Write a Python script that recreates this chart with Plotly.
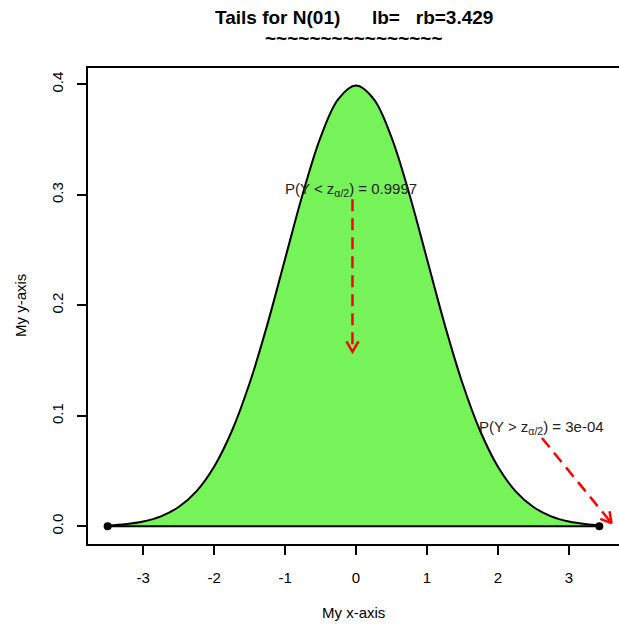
import math
import plotly.graph_objects as go

# ---- data ----
curve_x = [-3.5, -3.25, -3.0, -2.75, -2.5, -2.25, -2.0, -1.75, -1.5, -1.25, -1.0, -0.75, -0.5, -0.25,
           0.0, 0.25, 0.5, 0.75, 1.0, 1.25, 1.5, 1.75, 2.0, 2.25, 2.5, 2.75, 3.0, 3.25, 3.429]
curve_y = [0.0009, 0.0020, 0.0044, 0.0091, 0.0175, 0.0317, 0.0540, 0.0863, 0.1295, 0.1826, 0.2420, 0.3011, 0.3521, 0.3867,
           0.3989, 0.3867, 0.3521, 0.3011, 0.2420, 0.1826, 0.1295, 0.0863, 0.0540, 0.0317, 0.0175, 0.0091, 0.0044, 0.0020, 0.0011]
bounds_x = [-3.5, 3.429]
bounds_y = [0.0, 0.0]

x_ticks = [-3, -2, -1, 0, 1, 2, 3]
x_tick_labels = ["-3", "-2", "-1", "0", "1", "2", "3"]
y_ticks = [0.0, 0.1, 0.2, 0.3, 0.4]
y_tick_labels = ["0.0", "0.1", "0.2", "0.3", "0.4"]

label_left = "P(Y < z<sub>α/2</sub>) = 0.9997"
label_left_pos = (-0.07, 0.305)
arrow_left = ([-0.05, -0.05], [0.296, 0.158])

label_right = "P(Y > z<sub>α/2</sub>) = 3e-04"
label_right_pos = (2.62, 0.0898)
arrow_right = ([2.62, 3.6], [0.080, 0.003])

NB = "\u00a0"
title_line1 = "Tails for N(01)" + NB * 6 + "lb=" + NB * 3 + "rb=3.429"
title_line2 = "~" * 16
x_title = "My x-axis"
y_title = "My y-axis"

FONT = "Liberation Sans, Arial, sans-serif"
GREEN = "#77F35A"
RED = "#FF0000"

X_RANGE = [-3.777, 3.706]
Y_RANGE = [-0.01596, 0.41485]
W, H = 619, 624
ML, MR, MT, MB = 88, 0, 68, 80
PW, PH = W - ML - MR, H - MT - MB
px_per_x = PW / (X_RANGE[1] - X_RANGE[0])
px_per_y = PH / (Y_RANGE[1] - Y_RANGE[0])

fig = go.Figure()

fig.add_trace(go.Scatter(x=curve_x, y=curve_y, mode="lines", line=dict(color="black", width=2, shape="spline"),
                         fill="tozeroy", fillcolor=GREEN, hoverinfo="skip"))
fig.add_trace(go.Scatter(x=bounds_x, y=bounds_y, mode="lines+markers", line=dict(color="black", width=2),
                         marker=dict(color="black", size=8), hoverinfo="skip"))

HEAD_LEN = 12  # px
HEAD_ANG = math.radians(30)
for (ax_, ay_) in [arrow_left, arrow_right]:
    fig.add_trace(go.Scatter(x=ax_, y=ay_, mode="lines", line=dict(color=RED, width=2.5, dash="12px,7px"),
                             hoverinfo="skip"))
    # open "V" arrow head in pixel space, converted back to data units
    dxp = (ax_[1] - ax_[0]) * px_per_x
    dyp = (ay_[1] - ay_[0]) * px_per_y
    ang = math.atan2(dyp, dxp)
    hx, hy = [], []
    for s in (1, -1):
        a = ang + math.pi + s * HEAD_ANG
        hx.append(ax_[1] + HEAD_LEN * math.cos(a) / px_per_x)
        hy.append(ay_[1] + HEAD_LEN * math.sin(a) / px_per_y)
    fig.add_trace(go.Scatter(x=[hx[0], ax_[1], hx[1]], y=[hy[0], ay_[1], hy[1]], mode="lines",
                             line=dict(color=RED, width=2.5), hoverinfo="skip"))

for txt, (px, py) in [(label_left, label_left_pos), (label_right, label_right_pos)]:
    fig.add_annotation(x=px, y=py, xref="x", yref="y", text=txt, showarrow=False,
                       font=dict(family=FONT, size=15, color="#222222"), xanchor="center", yanchor="middle")

# titles
fig.add_annotation(x=0.5, y=1 + (MT - 18) / PH, xref="paper", yref="paper", text="<b>" + title_line1 + "</b>",
                   showarrow=False, font=dict(family=FONT, size=19, color="black"), xanchor="center", yanchor="middle")
fig.add_annotation(x=0.5, y=1 + (MT - 38) / PH, xref="paper", yref="paper", text="<b>" + title_line2 + "</b>",
                   showarrow=False, font=dict(family=FONT, size=19, color="black"), xanchor="center", yanchor="middle")
fig.add_annotation(x=0.5, y=-(612 - (H - MB)) / PH, xref="paper", yref="paper", text=x_title,
                   showarrow=False, font=dict(family=FONT, size=15, color="black"), xanchor="center", yanchor="middle")
fig.add_annotation(x=-(ML - 20) / PW, y=0.5, xref="paper", yref="paper", text=y_title, textangle=-90,
                   showarrow=False, font=dict(family=FONT, size=15, color="black"), xanchor="center", yanchor="middle")

fig.update_layout(
    width=W, height=H,
    margin=dict(l=ML, r=MR, t=MT, b=MB),
    plot_bgcolor="white", paper_bgcolor="white",
    showlegend=False,
    font=dict(family=FONT, size=15, color="black"),
)
fig.update_xaxes(range=X_RANGE, tickvals=x_ticks, ticktext=x_tick_labels, ticks="outside", ticklen=9,
                 tickwidth=1.5, tickcolor="black",
                 showgrid=False, zeroline=False, showline=True, linecolor="black", linewidth=1.5, mirror=True,
                 ticklabelstandoff=10, tickfont=dict(family=FONT, size=15, color="black"))
fig.update_yaxes(range=Y_RANGE, tickvals=y_ticks, ticktext=y_tick_labels, ticks="outside", ticklen=9,
                 tickwidth=1.5, tickcolor="black", tickangle=-90,
                 showgrid=False, zeroline=False, showline=True, linecolor="black", linewidth=1.5, mirror=False,
                 ticklabelstandoff=8, tickfont=dict(family=FONT, size=15, color="black"))

fig.write_html("out.html", config={"displayModeBar": False}, post_script="document.body.style.margin='0';")
